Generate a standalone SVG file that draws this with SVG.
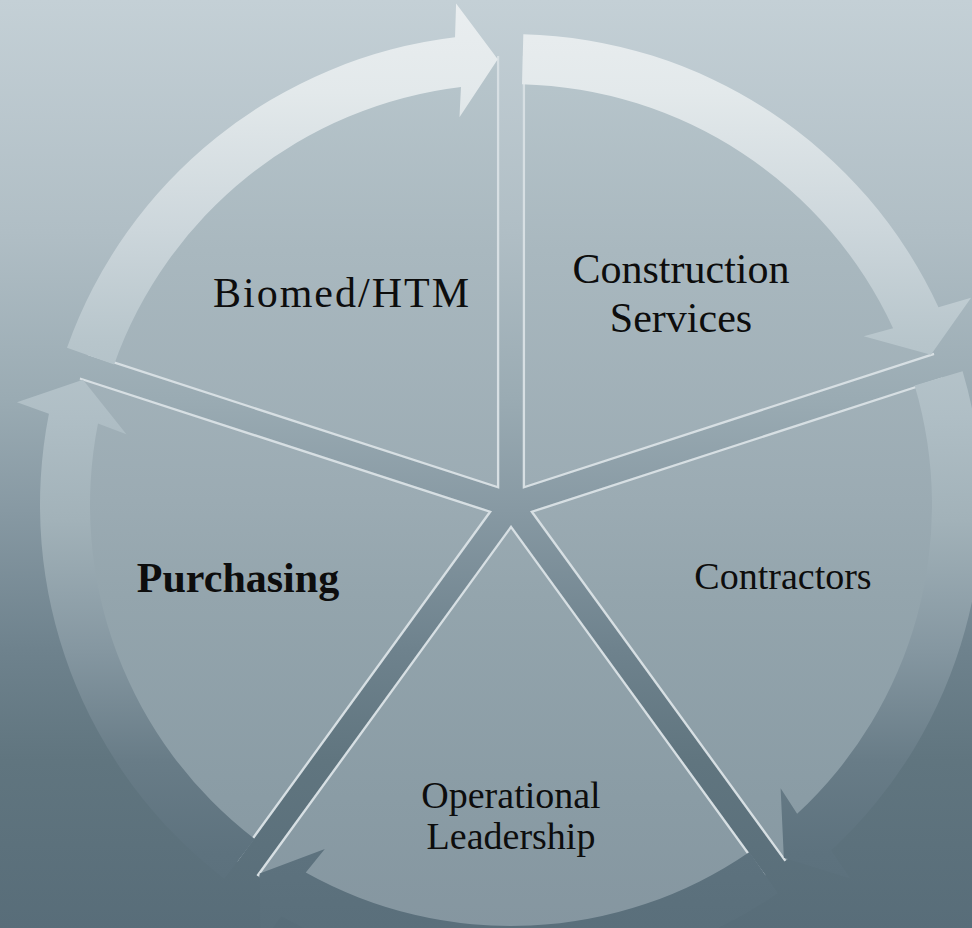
<svg xmlns="http://www.w3.org/2000/svg" width="972" height="928" viewBox="0 0 972 928">
<defs>
<linearGradient id="bg" gradientUnits="userSpaceOnUse" x1="0" y1="0" x2="0" y2="928">
<stop offset="0" stop-color="#c4d0d6"/>
<stop offset="0.25" stop-color="#b0bec5"/>
<stop offset="0.43" stop-color="#9aabb3"/>
<stop offset="0.55" stop-color="#8799a3"/>
<stop offset="0.7" stop-color="#6e828d"/>
<stop offset="0.82" stop-color="#60757f"/>
<stop offset="1" stop-color="#586d79"/>
</linearGradient>
<linearGradient id="wg" gradientUnits="userSpaceOnUse" x1="0" y1="0" x2="0" y2="928">
<stop offset="0.05" stop-color="#b9c7cd"/>
<stop offset="0.27" stop-color="#a9b8bf"/>
<stop offset="0.54" stop-color="#9babb3"/>
<stop offset="0.64" stop-color="#94a5ad"/>
<stop offset="0.86" stop-color="#8a9ca5"/>
<stop offset="1" stop-color="#8596a0"/>
</linearGradient>
<linearGradient id="ag" gradientUnits="userSpaceOnUse" x1="0" y1="0" x2="0" y2="928">
<stop offset="0" stop-color="#eaeef0"/>
<stop offset="0.1" stop-color="#e3e9eb"/>
<stop offset="0.25" stop-color="#ccd6db"/>
<stop offset="0.37" stop-color="#b7c5cb"/>
<stop offset="0.45" stop-color="#afbec5"/>
<stop offset="0.56" stop-color="#a2b2b9"/>
<stop offset="0.7" stop-color="#8597a1"/>
<stop offset="0.82" stop-color="#687c87"/>
<stop offset="0.92" stop-color="#5d727e"/>
<stop offset="1" stop-color="#5a6f7b"/>
</linearGradient>
<path id="w1" d="M499.24,488.82 L87.41,355.02 A433,433 0 0 1 499.24,55.82 Z"/>
<path id="w2" d="M522.76,488.82 L522.76,55.82 A433,433 0 0 1 934.59,355.02 Z"/>
<path id="w3" d="M530.02,511.18 L941.85,377.38 A433,433 0 0 1 784.54,861.48 Z"/>
<path id="w4" d="M511,525 L765.52,875.3 A433,433 0 0 1 256.48,875.3 Z"/>
<path id="w5" d="M491.98,511.18 L237.46,861.48 A433,433 0 0 1 80.15,377.38 Z"/>
<clipPath id="c1"><use href="#w1"/></clipPath>
<clipPath id="c2"><use href="#w2"/></clipPath>
<clipPath id="c3"><use href="#w3"/></clipPath>
<clipPath id="c4"><use href="#w4"/></clipPath>
<clipPath id="c5"><use href="#w5"/></clipPath>
</defs>
<style>
.wedge{fill:url(#wg);}
.edge{fill:none;stroke:#d7dfe3;stroke-width:4.6;stroke-linejoin:miter;}
.arrow{fill:url(#ag);}
.lbl{font-family:"Liberation Serif","Times New Roman",serif;fill:#0d0d0d;text-anchor:middle;}
</style>
<rect x="0" y="0" width="972" height="928" fill="url(#bg)"/>
<g id="biomed">
<use href="#w1" class="wedge"/>
<path class="edge" clip-path="url(#c1)" d="M87.41,355.02 L499.24,488.82 L499.24,55.82"/>
<text class="lbl" x="341" y="307" font-size="42" textLength="256">Biomed/HTM</text>
</g>
<g id="construction">
<use href="#w2" class="wedge"/>
<path class="edge" clip-path="url(#c2)" d="M522.76,55.82 L522.76,488.82 L934.59,355.02"/>
<text class="lbl" x="681" y="283" font-size="42">Construction</text>
<text class="lbl" x="681" y="332" font-size="42">Services</text>
</g>
<g id="contractors">
<use href="#w3" class="wedge"/>
<path class="edge" clip-path="url(#c3)" d="M941.85,377.38 L530.02,511.18 L784.54,861.48"/>
<text class="lbl" x="783" y="589" font-size="38">Contractors</text>
</g>
<g id="operational">
<use href="#w4" class="wedge"/>
<path class="edge" clip-path="url(#c4)" d="M765.52,875.3 L511,525 L256.48,875.3"/>
<text class="lbl" x="511" y="808" font-size="38">Operational</text>
<text class="lbl" x="511" y="849" font-size="38">Leadership</text>
</g>
<g id="purchasing">
<use href="#w5" class="wedge"/>
<path class="edge" clip-path="url(#c5)" d="M237.46,861.48 L491.98,511.18 L80.15,377.38"/>
<text class="lbl" x="238" y="592" font-size="42" font-weight="bold">Purchasing</text>
</g>
<g id="connectors">
<path class="arrow" d="M67.02,347.78 A471,471 0 0 1 455.03,37.34 L456.1,3.42 L497.77,59.2 L459.48,117.36 L460.97,86.98 A421,421 0 0 0 114.15,364.47 Z"/>
<path class="arrow" d="M523.33,34.16 A471,471 0 0 1 938.47,307.25 L971.08,297.78 L930.9,354.65 L863.76,336.2 L893.1,328.24 A421,421 0 0 0 522.02,84.14 Z"/>
<path class="arrow" d="M962.6,371.23 A471,471 0 0 1 831.12,850.5 L850.35,878.43 L783.84,857.81 L780.61,788.25 L797.13,813.82 A421,421 0 0 0 914.66,385.43 Z"/>
<path class="arrow" d="M777.78,893.17 A471,471 0 0 1 281.4,916.25 L260.59,943.07 L259.67,873.44 L324.83,848.89 L305.77,872.59 A421,421 0 0 0 749.46,851.96 Z"/>
<path class="arrow" d="M224.27,878.67 A471,471 0 0 1 48.93,413.72 L16.98,402.21 L82.92,379.82 L126.4,434.21 L97.98,423.41 A421,421 0 0 0 254.71,839 Z"/>
</g>
</svg>
